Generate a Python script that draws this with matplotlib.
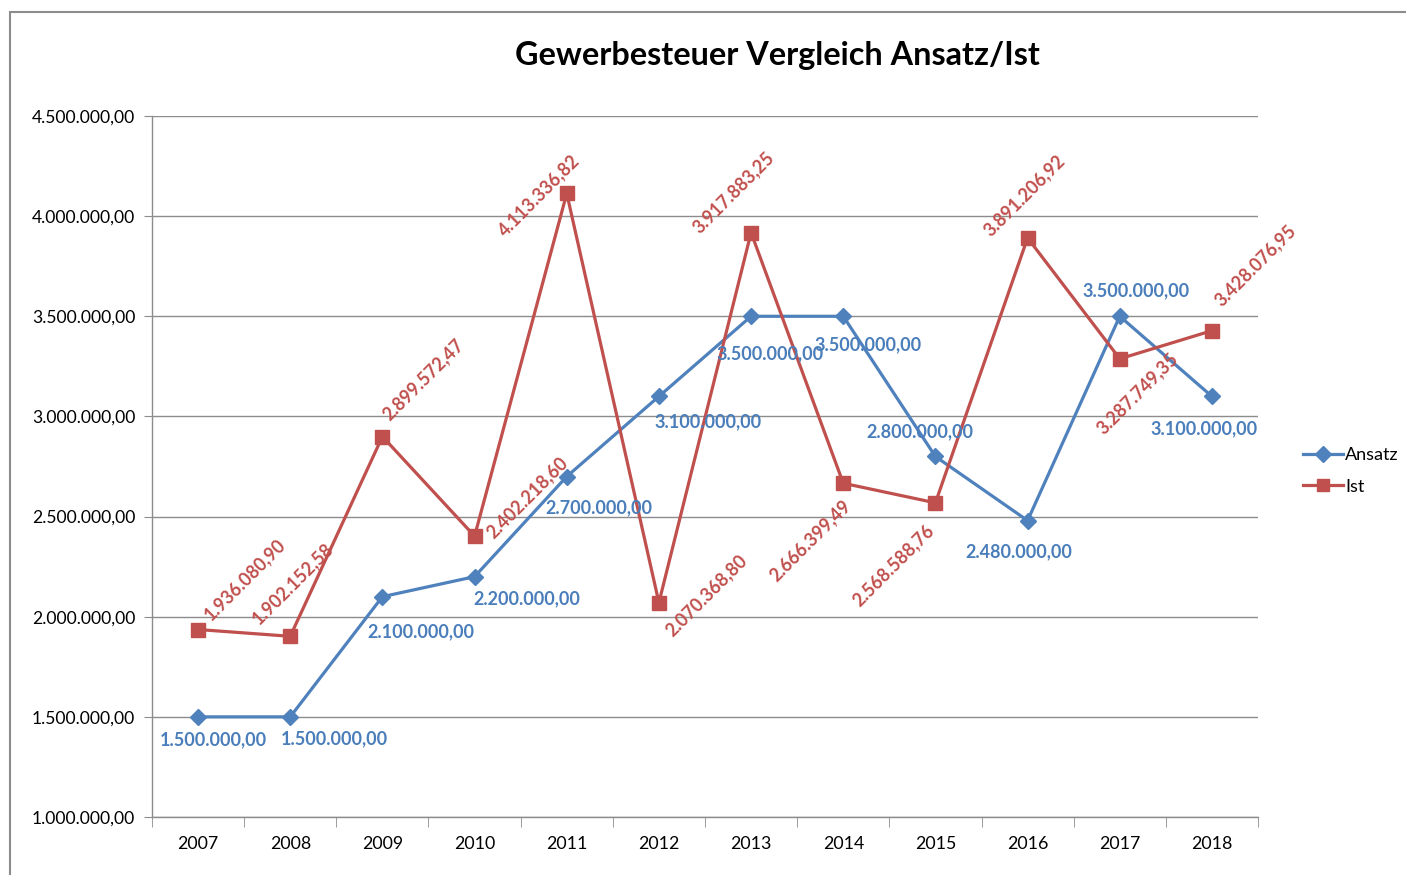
import matplotlib
matplotlib.use("Agg")
import matplotlib.pyplot as plt
from matplotlib.patches import Rectangle
from matplotlib.ticker import FixedLocator, FuncFormatter

plt.rcParams['font.family'] = ['Lato', 'DejaVu Sans']

years = ['2007', '2008', '2009', '2010', '2011', '2012', '2013', '2014', '2015', '2016', '2017', '2018']
ansatz = [1500000.00, 1500000.00, 2100000.00, 2200000.00, 2700000.00, 3100000.00,
          3500000.00, 3500000.00, 2800000.00, 2480000.00, 3500000.00, 3100000.00]
ist = [1936080.90, 1902152.58, 2899572.47, 2402218.60, 4113336.82, 2070368.80,
       3917883.25, 2666399.49, 2568588.76, 3891206.92, 3287749.35, 3428076.95]
y_ticks = [1000000, 1500000, 2000000, 2500000, 3000000, 3500000, 4000000, 4500000]

# label offsets in pixels (dx right, dy down) relative to marker
ansatz_off = [(15, 23), (44, 22), (38, 35), (52, 22), (32, 31), (49, 25),
              (19, 37), (25, 28), (-16, -25), (-9, 31), (16, -26), (-8, 32)]
ist_off = [(47, -50), (2, -53), (41, -57), (53, -39), (-28, 2), (47, -7),
           (-18, -40), (-33, 57), (-42, 63), (-3, -42), (18, 35), (43, -65)]

def de_fmt(v):
    s = f"{v:,.2f}"
    return s.replace(',', 'X').replace('.', ',').replace('X', '.')

BLUE = '#4F81BD'
BLUE_T = '#4A7EBB'
RED = '#C0504D'

W, H = 1406, 875
fig = plt.figure(figsize=(W / 100, H / 100), dpi=100)
fig.patches.append(Rectangle((10 / W, -0.1), 1.2, 1 - 12 / H + 0.1, transform=fig.transFigure,
                             fill=False, edgecolor='#8C8C8C', linewidth=1.5))

ax = fig.add_axes([152 / W, 1 - 817 / H, (1258 - 152) / W, (817 - 116) / H])
x = list(range(len(years)))
ax.plot(x, ansatz, color=BLUE, lw=2.3, marker='D', ms=8.5, label='Ansatz', zorder=3)
ax.plot(x, ist, color=RED, lw=2.3, marker='s', ms=10.5, label='Ist', zorder=3)

ax.set_xlim(-0.5, len(years) - 0.5)
ax.set_ylim(y_ticks[0], y_ticks[-1])
ax.yaxis.set_major_locator(FixedLocator(y_ticks))
ax.yaxis.set_major_formatter(FuncFormatter(lambda v, p: de_fmt(v)))
ax.set_xticks(x)
ax.set_xticklabels(years)
ax.set_xticks([i - 0.5 for i in range(len(years) + 1)], minor=True)
ax.tick_params(axis='x', which='major', length=0, pad=14, labelsize=12.8)
ax.tick_params(axis='x', which='minor', length=7, color='#8C8C8C', direction='out')
ax.tick_params(axis='y', length=6, color='#8C8C8C', labelsize=12.6, pad=6)
ax.grid(axis='y', color='#8C8C8C', lw=1)
ax.set_axisbelow(True)
for s in ['top', 'right']:
    ax.spines[s].set_visible(False)
for s in ['left', 'bottom']:
    ax.spines[s].set_color('#8C8C8C')
    ax.spines[s].set_linewidth(1)

for i, v in enumerate(ansatz):
    dx, dy = ansatz_off[i]
    ax.annotate(de_fmt(v), (i, v), xytext=(dx * 0.72, -dy * 0.72), textcoords='offset points',
                ha='center', va='center', color=BLUE_T, fontsize=13, fontweight='bold', zorder=4)
for i, v in enumerate(ist):
    dx, dy = ist_off[i]
    ax.annotate(de_fmt(v), (i, v), xytext=(dx * 0.72, -dy * 0.72), textcoords='offset points',
                ha='center', va='center', color=RED, fontsize=13, fontweight='bold',
                rotation=45, rotation_mode='anchor', zorder=4)

fig.text(777 / W, 1 - 55 / H, 'Gewerbesteuer Vergleich Ansatz/Ist', ha='center', va='center',
         fontsize=23.3, fontweight='bold')

leg = fig.legend(loc='center left', bbox_to_anchor=(1303 / W, 1 - 471 / H), frameon=False,
                 fontsize=13, handlelength=2.2, handletextpad=0.15, labelspacing=0.85,
                 borderaxespad=0, borderpad=0)
for h in leg.legend_handles:
    h.set_markersize(8)

fig.savefig('out.png', dpi=100)
